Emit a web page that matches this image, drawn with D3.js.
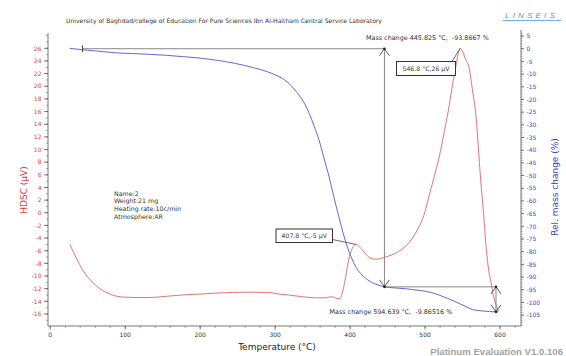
<!DOCTYPE html>
<html>
<head>
<meta charset="utf-8">
<script src="https://cdn.jsdelivr.net/npm/d3@7"></script>
<style>
  html, body { margin: 0; padding: 0; background: #fff; }
  svg { display: block; font-family: "DejaVu Sans", Verdana, sans-serif; }
</style>
</head>
<body>
<svg id="chart" width="566" height="356"></svg>
<script>
// DSC signal (µV) against temperature (°C)
const dscTemp = [26, 35, 43, 55, 65, 77, 87, 100, 115, 132, 155, 176, 200, 221, 243, 265, 292, 305, 318, 335, 355, 368, 373, 377, 382, 386, 390, 394, 398, 403, 407.8, 412, 417, 425, 434, 447, 465, 478, 486, 492, 499, 505, 512, 519, 526, 532, 537, 541, 544, 546.8, 550, 554, 559, 563, 568, 571, 574, 578, 581, 584, 588, 591, 594.6, 598];
const dscVal  = [-5.0, -7.2, -9.0, -10.8, -11.9, -12.7, -13.15, -13.35, -13.4, -13.4, -13.2, -13.0, -12.85, -12.7, -12.6, -12.55, -12.6, -12.85, -13.0, -13.25, -13.45, -13.45, -13.3, -13.3, -13.55, -13.6, -12.5, -10.2, -7.5, -5.6, -5.0, -5.3, -6.0, -7.0, -7.35, -7.0, -6.1, -4.8, -3.5, -2.2, -0.2, 2.5, 5.6, 8.9, 13.0, 16.8, 20.5, 23.1, 25.0, 26.0, 25.5, 24.3, 22.8, 19.6, 15.2, 10.5, 5.5, 0.0, -4.8, -8.3, -11.1, -13.0, -14.5, -15.5];

// Relative mass change (%) against temperature (°C)
const tgTemp = [26, 43, 65, 87, 110, 132, 155, 176, 200, 221, 247, 274, 290, 301, 310, 318.6, 325, 332, 339, 345.5, 352, 358.6, 365, 372, 378, 385, 391, 396.3, 402, 407.6, 414, 420.8, 427, 434, 440, 445.825, 460, 474, 485, 496.4, 508, 518.7, 530, 541, 552, 563.4, 574, 585.7, 594.639, 598];
const tgVal  = [0.15, -0.4, -1.0, -1.6, -1.9, -2.2, -2.6, -3.1, -3.7, -4.5, -5.8, -7.7, -9.1, -10.4, -11.8, -13.7, -15.8, -18.3, -21.5, -25.5, -30.5, -36.0, -43.0, -50.5, -58.0, -66.2, -73.0, -78.1, -82.5, -86.0, -88.6, -90.5, -91.8, -92.8, -93.4, -93.8667, -94.3, -94.6, -95.0, -95.4, -96.1, -97.1, -98.4, -99.8, -101.3, -102.8, -103.3, -103.6, -103.732, -103.75];

// Axis tick values
const xTicks = [0, 100, 200, 300, 400, 500, 600];
const dscTicks = d3.range(-16, 27, 2);
const tgTicks = d3.range(-105, 6, 5);

// Peak labels on the DSC curve
const peakTemp  = [546.8, 407.8];
const peakVal   = [26, -5];
const peakLabel = ["546.8 °C,26 µV", "407.8 °C,-5 µV"];

// Mass-change steps on the TG curve
const stepStartTemp = 43;
const stepStartVal = 0;
const stepTemp = [445.825, 594.639];
const stepChange = [-93.8667, -9.86516];

// Sample information
const infoLines = ["Name:2", "Weight:21 mg", "Heating rate:10c/min", "Atmosphere:AR"];

const svg = d3.select("#chart");

const x = d3.scaleLinear().domain([-3, 628]).range([48, 521]);
const yL = d3.scaleLinear().domain([-17.9, 28.42]).range([326, 33]);
const yR = d3.scaleLinear().domain([-109.3, 6.2]).range([326, 33]);

const RED = "#e05a5a";
const BLUE = "#4a4ac8";
const GREY = "#7a7a7a";
const TXT = "#333";

// header
svg.append("text").attr("x", 66).attr("y", 22.5)
  .attr("font-size", 6.05).attr("fill", TXT)
  .text("University of Baghdad/college of Education For Pure Sciences Ibn Al-Haitham Central Service Laboratory");

const logo = svg.append("g");
logo.append("text").attr("x", 505).attr("y", 18)
  .attr("font-size", 8).attr("font-style", "italic").attr("letter-spacing", 3.2)
  .attr("fill", "#4d9ad6").attr("font-family", "Liberation Sans, Arial, sans-serif")
  .text("LINSEIS");
logo.append("line").attr("x1", 503).attr("x2", 561).attr("y1", 20.5).attr("y2", 20.5)
  .attr("stroke", "#4d9ad6").attr("stroke-width", 0.8);

// axes
const axisG = svg.append("g").attr("stroke", "#555").attr("stroke-width", 0.8);
axisG.append("line").attr("x1", 48).attr("x2", 48).attr("y1", 33).attr("y2", 326);
axisG.append("line").attr("x1", 48).attr("x2", 521).attr("y1", 326).attr("y2", 326);
axisG.append("line").attr("x1", 521).attr("x2", 521).attr("y1", 30).attr("y2", 326);

// left minor/major ticks
const leftMinor = d3.range(-17, 29, 1);
axisG.selectAll(".lmin").data(leftMinor).join("line")
  .attr("x1", 46).attr("x2", 48).attr("y1", d => yL(d)).attr("y2", d => yL(d)).attr("stroke-width", 0.5);
axisG.selectAll(".lmaj").data(dscTicks).join("line")
  .attr("x1", 44).attr("x2", 48).attr("y1", d => yL(d)).attr("y2", d => yL(d));
svg.append("g").selectAll("text").data(dscTicks).join("text")
  .attr("x", 41.5).attr("y", d => yL(d) + 2.2)
  .attr("text-anchor", "end").attr("font-size", 6).attr("fill", "#d84848")
  .text(d => d);

// right minor/major ticks
const rightMinor = d3.range(-109, 7, 1);
axisG.selectAll(".rmin").data(rightMinor).join("line")
  .attr("x1", 521).attr("x2", 522.5).attr("y1", d => yR(d)).attr("y2", d => yR(d)).attr("stroke-width", 0.5);
axisG.selectAll(".rmaj").data(tgTicks).join("line")
  .attr("x1", 521).attr("x2", 524).attr("y1", d => yR(d)).attr("y2", d => yR(d));
svg.append("g").selectAll("text").data(tgTicks).join("text")
  .attr("x", 526.5).attr("y", d => yR(d) + 2.2)
  .attr("font-size", 6).attr("fill", "#4848b8")
  .text(d => d);

// bottom ticks
const xMinor = d3.range(0, 628, 20);
axisG.selectAll(".xmin").data(xMinor).join("line")
  .attr("x1", d => x(d)).attr("x2", d => x(d)).attr("y1", 326).attr("y2", 328).attr("stroke-width", 0.5);
axisG.selectAll(".xmaj").data(xTicks).join("line")
  .attr("x1", d => x(d)).attr("x2", d => x(d)).attr("y1", 326).attr("y2", 329.5);
svg.append("g").selectAll("text").data(xTicks).join("text")
  .attr("x", d => x(d)).attr("y", 336.5)
  .attr("text-anchor", "middle").attr("font-size", 6).attr("fill", TXT)
  .text(d => d);

// axis titles
svg.append("text").attr("transform", "translate(26.5,190) rotate(-90)")
  .attr("text-anchor", "middle").attr("font-size", 9).attr("fill", "#e03a3a")
  .text("HDSC (µV)");
svg.append("text").attr("transform", "translate(558,187) rotate(-90)")
  .attr("text-anchor", "middle").attr("font-size", 9).attr("fill", "#3c3cc0")
  .text("Rel. mass change (%)");
svg.append("text").attr("x", 277).attr("y", 349.5)
  .attr("text-anchor", "middle").attr("font-size", 9).attr("fill", "#222")
  .text("Temperature (°C)");
svg.append("text").attr("x", 563).attr("y", 354.5)
  .attr("text-anchor", "end").attr("font-size", 9.6).attr("font-weight", "bold")
  .attr("font-family", "Liberation Sans, Arial, sans-serif").attr("fill", "#a3a3a3")
  .text("Platinum Evaluation V1.0.106");

// curves
const dscData = dscTemp.map((t, i) => [t, dscVal[i]]);
const tgData = tgTemp.map((t, i) => [t, tgVal[i]]);

svg.append("path").datum(tgData)
  .attr("fill", "none").attr("stroke", BLUE).attr("stroke-width", 0.85)
  .attr("d", d3.line().x(d => x(d[0])).y(d => yR(d[1])).curve(d3.curveMonotoneX));
svg.append("path").datum(dscData)
  .attr("fill", "none").attr("stroke", RED).attr("stroke-width", 0.85)
  .attr("d", d3.line().x(d => x(d[0])).y(d => yL(d[1])).curve(d3.curveMonotoneX));

// mass-change step markers
const ann = svg.append("g").attr("stroke", GREY).attr("stroke-width", 0.9).attr("fill", "none");
let level = stepStartVal;
let fromT = stepStartTemp;
const stepLevels = [];
stepTemp.forEach((t, i) => {
  const next = level + stepChange[i];
  stepLevels.push([level, next]);
  ann.append("line").attr("x1", x(fromT)).attr("x2", x(t)).attr("y1", yR(level)).attr("y2", yR(level));
  ann.append("line").attr("x1", x(t)).attr("x2", x(t)).attr("y1", yR(level)).attr("y2", yR(next));
  level = next;
  fromT = t;
});
// start tick on the first level
ann.append("line").attr("x1", x(stepStartTemp)).attr("x2", x(stepStartTemp))
  .attr("y1", yR(stepStartVal) - 3.5).attr("y2", yR(stepStartVal) + 3.5).attr("stroke", "#333");

// open arrow heads at both ends of each step
const head = (g, cx, cy, dir) => {
  g.append("path")
    .attr("d", `M${cx - 5},${cy + dir * 7} L${cx},${cy} L${cx + 5},${cy + dir * 7}`)
    .attr("stroke", "#333").attr("stroke-width", 0.8).attr("fill", "none");
  g.append("circle").attr("cx", cx).attr("cy", cy).attr("r", 1.3).attr("fill", "#222").attr("stroke", "none");
};
stepTemp.forEach((t, i) => {
  head(ann, x(t), yR(stepLevels[i][0]), 1);
  head(ann, x(t), yR(stepLevels[i][1]), -1);
});

svg.append("text").attr("x", 366).attr("y", 39.5)
  .attr("font-size", 6.4).attr("fill", TXT).attr("xml:space", "preserve")
  .text(`Mass change ${stepTemp[0]} °C,  ${stepChange[0]} %`);
svg.append("text").attr("x", 329.5).attr("y", 313.8)
  .attr("font-size", 6.4).attr("fill", TXT).attr("xml:space", "preserve")
  .text(`Mass change ${stepTemp[1]} °C,  ${stepChange[1]} %`);

// peak label boxes with leader lines
const boxes = [
  { x: 396.5, y: 61.5, w: 59, h: 14, lx: 452, ly: 61.5 },
  { x: 276, y: 229, w: 56.5, h: 13.5, lx: 332.5, ly: 239.5 }
];
peakTemp.forEach((t, i) => {
  const b = boxes[i];
  svg.append("line").attr("x1", b.lx).attr("y1", b.ly).attr("x2", x(t)).attr("y2", yL(peakVal[i]))
    .attr("stroke", "#444").attr("stroke-width", 0.8);
  svg.append("rect").attr("x", b.x).attr("y", b.y).attr("width", b.w).attr("height", b.h)
    .attr("fill", "#fff").attr("stroke", "#333").attr("stroke-width", 1);
  svg.append("text").attr("x", b.x + b.w / 2).attr("y", b.y + b.h / 2 + 2.2)
    .attr("text-anchor", "middle").attr("font-size", 6.2).attr("fill", TXT)
    .text(peakLabel[i]);
});

// sample info
svg.append("g").selectAll("text").data(infoLines).join("text")
  .attr("x", 114).attr("y", (d, i) => 195.5 + i * 7.8)
  .attr("font-size", 6.3).attr("fill", TXT)
  .text(d => d);
</script>
</body>
</html>
